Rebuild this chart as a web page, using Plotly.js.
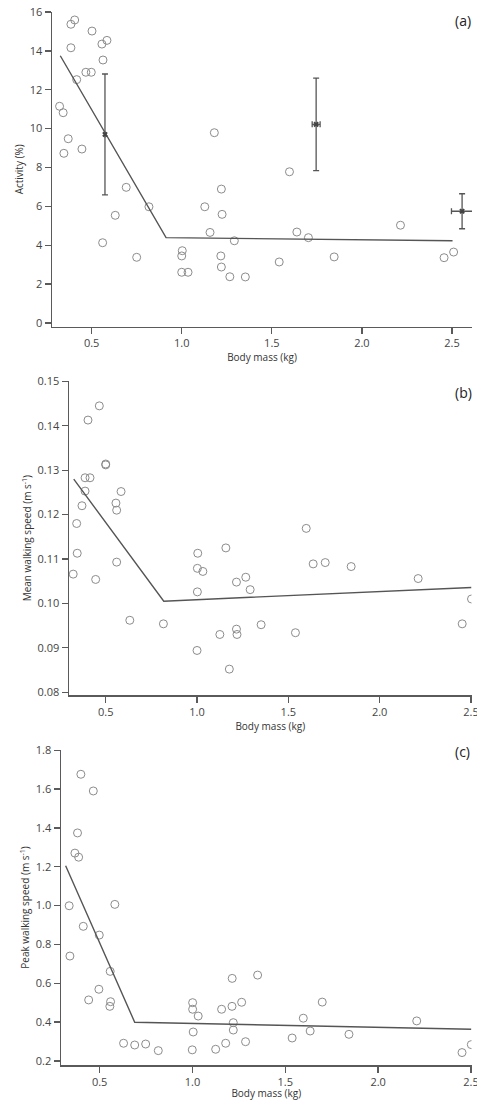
<!DOCTYPE html>
<html>
<head>
<meta charset="utf-8">
<script src="https://cdn.plot.ly/plotly-3.0.1.min.js"></script>
<style>html,body{margin:0;padding:0;background:#fff;}#chart{width:477px;height:1100px;}</style>
</head>
<body>
<div id="chart"></div>
<script>
// ---- Panel (a): Activity (%) ----
const actX = [0.406,0.385,0.502,0.557,0.585,0.385,0.563,0.468,0.498,0.417,0.322,0.342,0.370,0.346,0.446,1.181,1.598,0.692,0.631,0.818,0.561,0.750,1.003,1.000,1.000,1.035,1.220,1.128,1.224,1.157,1.217,1.220,1.267,1.292,1.639,1.703,1.541,1.353,1.846,2.214,2.456,2.509];
const actY = [15.59,15.37,15.02,14.35,14.54,14.16,13.53,12.90,12.90,12.52,11.15,10.82,9.48,8.73,8.95,9.79,7.78,6.98,5.54,5.98,4.13,3.38,3.72,3.45,2.61,2.61,6.89,5.98,5.59,4.66,3.45,2.88,2.38,4.23,4.68,4.39,3.14,2.37,3.40,5.03,3.36,3.65];
const groupX = [0.574,1.746,2.556];
const groupY = [9.70,10.22,5.75];
const groupErrY = [3.11,2.38,0.90];
const groupErrX = [0.0,0.022,0.059];
const fitAX = [0.326,0.913,2.503];
const fitAY = [13.75,4.39,4.23];

// ---- Panel (b): Mean walking speed ----
const meanX = [0.465,0.403,0.500,0.500,0.387,0.414,0.387,0.584,0.556,0.560,0.370,0.341,0.344,0.322,0.445,0.560,0.632,0.816,1.004,1.002,1.032,1.002,1.000,1.158,1.216,1.125,1.216,1.219,1.177,1.267,1.291,1.351,1.539,1.636,1.702,1.844,2.211,2.452,2.503,1.598];
const meanY = [0.1445,0.1413,0.1314,0.1312,0.1283,0.1283,0.1253,0.1252,0.1226,0.1210,0.1220,0.1180,0.1113,0.1066,0.1054,0.1093,0.0962,0.0954,0.1113,0.1079,0.1072,0.1026,0.0894,0.1125,0.1048,0.0930,0.0942,0.0930,0.0852,0.1059,0.1031,0.0952,0.0934,0.1089,0.1092,0.1083,0.1056,0.0954,0.1010,0.1169];
const fitBX = [0.325,0.818,2.503];
const fitBY = [0.1280,0.1005,0.1036];

// ---- Panel (c): Peak walking speed ----
const peakX = [0.399,0.466,0.381,0.367,0.387,0.336,0.582,0.412,0.498,0.340,0.557,0.496,0.441,0.559,0.555,0.629,0.689,0.748,0.816,1.001,1.001,1.031,1.004,0.999,1.157,1.214,1.213,1.220,1.220,1.179,1.125,1.265,1.286,1.351,1.537,1.597,1.634,1.699,1.843,2.208,2.452,2.502];
const peakY = [1.676,1.590,1.374,1.270,1.249,0.999,1.006,0.893,0.848,0.740,0.661,0.569,0.514,0.505,0.481,0.291,0.282,0.287,0.253,0.500,0.466,0.431,0.349,0.257,0.466,0.625,0.481,0.397,0.359,0.291,0.260,0.502,0.299,0.642,0.318,0.420,0.354,0.503,0.337,0.406,0.243,0.284];
const fitCX = [0.317,0.689,2.502];
const fitCY = [1.205,0.399,0.363];

const xTickVals = [0.5,1.0,1.5,2.0,2.5];
const xTickText = ['0.5','1.0','1.5','2.0','2.5'];
const aTickVals = [0,2,4,6,8,10,12,14,16];
const bTickVals = [0.08,0.09,0.10,0.11,0.12,0.13,0.14,0.15];
const bTickText = ['0.08','0.09','0.10','0.11','0.12','0.13','0.14','0.15'];
const cTickVals = [0.2,0.4,0.6,0.8,1.0,1.2,1.4,1.6,1.8];
const cTickText = ['0.2','0.4','0.6','0.8','1.0','1.2','1.4','1.6','1.8'];

const xTitle = 'Body mass (kg)';
const yTitles = ['Activity (%)','Mean walking speed (m s<sup>-1</sup>)','Peak walking speed (m s<sup>-1</sup>)'];
const panelLabels = ['(a)','(b)','(c)'];

const W = 477, H = 1100;
const FONT = 'Open Sans, sans-serif';
const AXC = '#5a5a5a';
const PTC = '#8c8c8c';

const circle = {symbol:'circle-open', size:8, color:PTC, line:{width:1, color:PTC}};
const fitLine = {color:'#555', width:1.4};

const traces = [
  {x:actX, y:actY, mode:'markers', type:'scatter', marker:circle, xaxis:'x', yaxis:'y'},
  {x:fitAX, y:fitAY, mode:'lines', type:'scatter', line:fitLine, xaxis:'x', yaxis:'y'},
  {x:groupX, y:groupY, mode:'markers', type:'scatter', xaxis:'x', yaxis:'y',
   marker:{symbol:'x', size:5, color:'#444'},
   error_y:{type:'data', array:groupErrY, visible:true, color:'#555', thickness:1.3, width:3},
   error_x:{type:'data', array:groupErrX, visible:true, color:'#555', thickness:1.3, width:3}},
  {x:meanX, y:meanY, mode:'markers', type:'scatter', marker:circle, xaxis:'x2', yaxis:'y2'},
  {x:fitBX, y:fitBY, mode:'lines', type:'scatter', line:fitLine, xaxis:'x2', yaxis:'y2'},
  {x:peakX, y:peakY, mode:'markers', type:'scatter', marker:circle, xaxis:'x3', yaxis:'y3'},
  {x:fitCX, y:fitCY, mode:'lines', type:'scatter', line:fitLine, xaxis:'x3', yaxis:'y3'}
];

function px2x(p){return p/W;}
function py2y(p){return 1-p/H;}

function xaxis(d0,d1,anchor,range){
  return {domain:[px2x(d0),px2x(d1)], anchor:anchor, range:range,
    tickvals:xTickVals, ticktext:xTickText, ticks:'outside', ticklen:6, tickwidth:1.3, tickcolor:AXC,
    ticklabeloverflow:'allow',
    showline:true, linecolor:AXC, linewidth:1.5, showgrid:false, zeroline:false,
    tickfont:{family:FONT, size:11, color:'#444'},
    title:{text:xTitle, font:{family:FONT, size:10, color:'#333'}, standoff:3}};
}
function yaxis(d0,d1,anchor,range,tv,tt,title){
  return {domain:[py2y(d1),py2y(d0)], anchor:anchor, range:range,
    tickvals:tv, ticktext:tt, ticks:'outside', ticklen:6, tickwidth:1.3, tickcolor:AXC,
    ticklabeloverflow:'allow',
    showline:true, linecolor:AXC, linewidth:1.5, showgrid:false, zeroline:false,
    tickfont:{family:FONT, size:11, color:'#444'},
    title:{text:title, font:{family:FONT, size:10, color:'#333'}, standoff:4}};
}

const layout = {
  width:W, height:H, margin:{l:0,r:0,t:0,b:0}, showlegend:false,
  paper_bgcolor:'#fff', plot_bgcolor:'#fff',
  xaxis: xaxis(52,472,'y',[0.28,2.611]),
  yaxis: yaxis(12,326.7,'x',[-0.19,16],aTickVals,aTickVals.map(String),yTitles[0]),
  xaxis2: xaxis(69,471.5,'y2',[0.299,2.503]),
  yaxis2: yaxis(381,695.3,'x2',[0.0793,0.1501],bTickVals,bTickText,yTitles[1]),
  xaxis3: xaxis(61,471.5,'y3',[0.292,2.503]),
  yaxis3: yaxis(750,1065,'x3',[0.179,1.801],cTickVals,cTickText,yTitles[2]),
  annotations: [
    {text:panelLabels[0], x:px2x(463), y:py2y(20)},
    {text:panelLabels[1], x:px2x(463), y:py2y(392)},
    {text:panelLabels[2], x:px2x(462), y:py2y(751)}
  ].map(a=>Object.assign(a,{xref:'paper', yref:'paper', showarrow:false, xanchor:'center', yanchor:'middle',
     font:{family:FONT, size:14, color:'#222'}}))
};

Plotly.newPlot('chart', traces, layout, {displayModeBar:false, staticPlot:true});
</script>
</body>
</html>
